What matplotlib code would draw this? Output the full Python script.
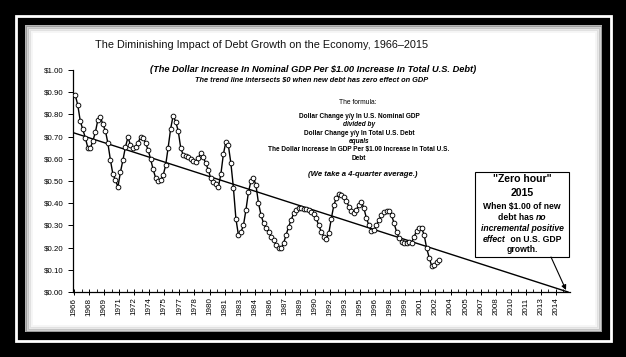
import matplotlib
matplotlib.use('Agg')
import matplotlib.pyplot as plt
from matplotlib.patches import Rectangle, FancyArrowPatch
from matplotlib import font_manager
import numpy as np

plt.rcParams['text.parse_math'] = False

# ---------------- data ----------------
start_year = 1966.125          # first quarterly observation (mid-quarter)
step_year = 0.25
ratio = [0.887, 0.842, 0.77, 0.733, 0.695, 0.65, 0.648, 0.68, 0.719, 0.775,
         0.79, 0.755, 0.727, 0.67, 0.595, 0.53, 0.505, 0.473, 0.54, 0.595,
         0.654, 0.697, 0.662, 0.647, 0.654, 0.672, 0.697, 0.695, 0.672, 0.64,
         0.60, 0.553, 0.515, 0.50, 0.505, 0.525, 0.57, 0.65, 0.735, 0.795,
         0.767, 0.727, 0.65, 0.617, 0.614, 0.606, 0.597, 0.591, 0.587, 0.602,
         0.627, 0.606, 0.58, 0.55, 0.512, 0.497, 0.486, 0.473, 0.53, 0.62,
         0.677, 0.66, 0.58, 0.47, 0.33, 0.257, 0.27, 0.30, 0.37, 0.45,
         0.50, 0.515, 0.48, 0.40, 0.347, 0.31, 0.287, 0.272, 0.25, 0.234,
         0.212, 0.197, 0.197, 0.22, 0.257, 0.294, 0.324, 0.354, 0.37, 0.377,
         0.377, 0.375, 0.372, 0.37, 0.362, 0.351, 0.332, 0.30, 0.272, 0.25,
         0.239, 0.264, 0.33, 0.39, 0.425, 0.44, 0.437, 0.429, 0.41, 0.385,
         0.366, 0.358, 0.37, 0.392, 0.407, 0.377, 0.332, 0.30, 0.275, 0.28,
         0.30, 0.324, 0.347, 0.36, 0.366, 0.365, 0.347, 0.31, 0.272, 0.242,
         0.227, 0.219, 0.219, 0.225, 0.222, 0.25, 0.275, 0.29, 0.287, 0.257,
         0.197, 0.155, 0.117, 0.122, 0.137, 0.144]
trend_years = [1965.9, 2015.2]
trend_values = [0.718, 0.0]
xtick_years = [1966.0, 1967.5, 1969.0, 1970.5, 1972.0, 1973.5, 1975.0, 1976.5,
               1978.0, 1979.5, 1981.0, 1982.5, 1984.0, 1985.5, 1987.0, 1988.5,
               1990.0, 1991.5, 1993.0, 1994.5, 1996.0, 1997.5, 1999.0, 2000.5,
               2002.0, 2003.5, 2005.0, 2006.5, 2008.0, 2009.5, 2011.0, 2012.5,
               2014.0]
xtick_labels = ['1966', '1968', '1969', '1971', '1972', '1974', '1975', '1977',
                '1978', '1980', '1981', '1983', '1984', '1986', '1987', '1989',
                '1990', '1992', '1993', '1995', '1996', '1998', '1999', '2001',
                '2002', '2004', '2005', '2007', '2008', '2010', '2011', '2013',
                '2014']
ytick_values = [0.0, 0.1, 0.2, 0.3, 0.4, 0.5, 0.6, 0.7, 0.8, 0.9, 1.0]
ytick_labels = ['$0.00', '$0.10', '$0.20', '$0.30', '$0.40', '$0.50',
                '$0.60', '$0.70', '$0.80', '$0.90', '$1.00']

title = 'The Diminishing Impact of Debt Growth on the Economy, 1966\u20132015'
subtitle1 = '(The Dollar Increase In Nominal GDP Per $1.00 Increase In Total U.S. Debt)'
subtitle2 = 'The trend line intersects $0 when new debt has zero effect on GDP'
formula_lines = [
    ('Dollar Change y/y In U.S. Nominal GDP', 'normal'),
    ('divided by', 'italic'),
    ('Dollar Change y/y In Total U.S. Debt', 'normal'),
    ('equals', 'italic'),
    ('The Dollar Increase In GDP Per $1.00 Increase In Total U.S.', 'normal'),
    ('Debt', 'normal'),
]

# ---------------- fonts ----------------
def pick(names):
    for n in names:
        try:
            font_manager.findfont(n, fallback_to_default=False)
            return n
        except Exception:
            pass
    return 'DejaVu Sans'

FONT = pick(['Liberation Sans', 'Arial', 'DejaVu Sans'])
NARROW = pick(['Liberation Sans Narrow', 'Liberation Sans'])
plt.rcParams['font.family'] = [FONT, 'DejaVu Sans']

W, H = 626, 357
fig = plt.figure(figsize=(W / 100, H / 100), dpi=100, facecolor='black')

# background frame (pixel coordinates)
bg = fig.add_axes([0, 0, 1, 1], zorder=0)
bg.set_xlim(0, W)
bg.set_ylim(H, 0)
bg.axis('off')
bg.add_patch(Rectangle((0, 0), W, H, facecolor='black', edgecolor='none'))
bg.add_patch(Rectangle((15.5, 15.5), 595, 325, facecolor='none', edgecolor='white', lw=2.0))
bg.add_patch(Rectangle((25, 25), 577, 307, facecolor='white', edgecolor='none'))
# soft inner shadow of the photographed frame
for k, a in enumerate([0.30, 0.18, 0.09, 0.04]):
    bg.add_patch(Rectangle((25 + k * 2, 25 + k * 2), 577 - k * 4, 307 - k * 4,
                           facecolor='none', edgecolor='black', lw=2.0, alpha=a))

# ---------------- main chart ----------------
ax_l, ax_r, ax_b, ax_t = 73, 570, 292, 70
ax = fig.add_axes([ax_l / W, 1 - ax_b / H, (ax_r - ax_l) / W, (ax_b - ax_t) / H], zorder=1)
ax.set_facecolor('none')
years = start_year + step_year * np.arange(len(ratio))
ax.plot(trend_years, trend_values, color='black', lw=1.0, zorder=2)
ax.plot(years, ratio, color='black', lw=1.0, marker='o', markersize=3.4,
        markerfacecolor='white', markeredgecolor='black', markeredgewidth=0.65, zorder=3)
ax.set_xlim(1965.9, 2015.4)
ax.set_ylim(0, 1.0)
for s in ['top', 'right']:
    ax.spines[s].set_visible(False)
for s in ['left', 'bottom']:
    ax.spines[s].set_linewidth(0.9)
ax.set_yticks(ytick_values)
ax.set_yticklabels(ytick_labels, fontsize=5.7)
ax.set_xticks(xtick_years)
ax.set_xticklabels(xtick_labels, rotation=90, fontsize=5.8)
ax.set_xticks([y + 0.75 for y in xtick_years], minor=True)
ax.tick_params(axis='y', direction='out', length=3.5, width=0.7, pad=3.2)
ax.tick_params(axis='x', which='major', direction='inout', length=4, width=0.7, pad=2)
ax.tick_params(axis='x', which='minor', direction='in', length=2, width=0.6)

# ---------------- annotations (pixel coordinates) ----------------
fg = fig.add_axes([0, 0, 1, 1], zorder=3)
fg.set_xlim(0, W)
fg.set_ylim(H, 0)
fg.axis('off')
fg.patch.set_alpha(0)

fg.text(262, 45, title, fontsize=7.8, family=[NARROW, FONT], ha='center', va='center', color='#111111')
fg.text(313, 69, subtitle1, fontsize=6.7, fontweight='bold', fontstyle='italic', ha='center', va='center')
fg.text(312, 80, subtitle2, fontsize=5.35, fontweight='bold', fontstyle='italic', ha='center', va='center')
fg.text(358, 103, 'The formula:', fontsize=4.8, ha='center', va='center')
fy = [116, 124.5, 133.3, 141.7, 150, 158.5]
for (s, st), y in zip(formula_lines, fy):
    fg.text(359, y, s, fontsize=4.7, fontweight='bold', fontstyle=st, ha='center', va='center')
fg.text(363, 175, '(We take a 4-quarter average.)', fontsize=5.6, fontweight='bold',
        fontstyle='italic', ha='center', va='center')

# callout box
fg.add_patch(Rectangle((475, 172), 94, 85, facecolor='white', edgecolor='black', lw=0.8))
fg.add_patch(FancyArrowPatch((551, 257), (566, 290), arrowstyle='-|>', mutation_scale=7,
                             lw=0.8, color='black', shrinkA=0, shrinkB=0))

renderer = fig.canvas.get_renderer()

def rich_line(xc, y, parts, size):
    objs = []
    widths = []
    gap = size * 0.28 * 100 / 72
    for s, st in parts:
        t = fg.text(0, y, s, fontsize=size, fontweight='bold', fontstyle=st,
                    ha='left', va='center')
        objs.append(t)
        widths.append(t.get_window_extent(renderer).width)
    total = sum(widths) + gap * (len(parts) - 1)
    x = xc - total / 2
    for t, w in zip(objs, widths):
        t.set_x(x)
        x += w + gap

bx = 522
fg.text(bx, 178.5, '"Zero hour"', fontsize=7.6, fontweight='bold', ha='center', va='center')
fg.text(bx, 193, '2015', fontsize=7.6, fontweight='bold', ha='center', va='center')
rich_line(bx, 206.7, [('When $1.00 of new', 'normal')], 6.2)
rich_line(bx, 217.7, [('debt has', 'normal'), ('no', 'italic')], 6.2)
rich_line(bx, 228.3, [('incremental positive', 'italic')], 6.2)
rich_line(bx, 239, [('effect', 'italic'), (' on U.S. GDP', 'normal')], 6.2)
rich_line(bx, 249.3, [('growth.', 'normal')], 6.2)

fig.savefig('out.png', dpi=100, facecolor='black')
